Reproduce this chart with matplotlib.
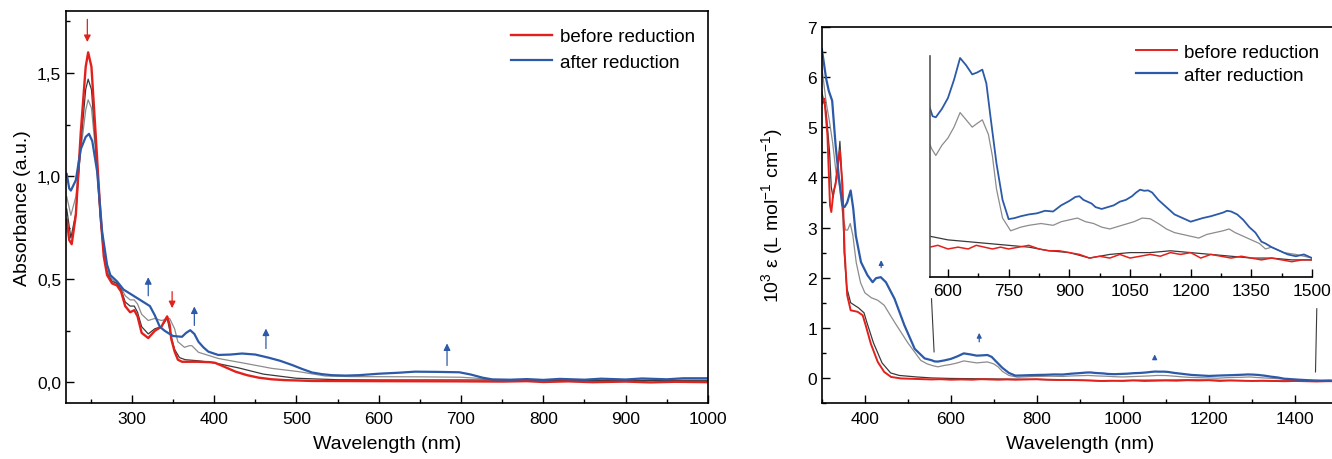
import numpy as np
import matplotlib
matplotlib.use('Agg')
import matplotlib.pyplot as plt
from matplotlib.ticker import MultipleLocator, FuncFormatter

plt.rcParams['font.family'] = ['Liberation Sans', 'DejaVu Sans']
plt.rcParams['mathtext.fontset'] = 'custom'
plt.rcParams['mathtext.rm'] = 'Liberation Sans'
plt.rcParams['mathtext.it'] = 'Liberation Sans:italic'

# ---------------- left panel: absorbance ----------------
l_red_wl = [221, 224, 227, 232, 238, 244, 247, 251, 256, 262, 266, 270, 276, 282, 287, 292, 298, 303, 307, 312,
            320, 328, 336, 340, 343, 346, 348, 352, 356, 361, 380, 395, 401, 410, 426, 440, 454, 470, 486, 520,
            600, 700, 750, 780, 800, 830, 860, 900, 930, 960, 1000]
l_red = [0.79, 0.69, 0.67, 0.81, 1.21, 1.53, 1.60, 1.53, 1.21, 0.81, 0.61, 0.52, 0.48, 0.47, 0.44, 0.37, 0.34, 0.35, 0.32, 0.24,
         0.215, 0.25, 0.27, 0.30, 0.32, 0.28, 0.21, 0.15, 0.11, 0.10, 0.10, 0.098, 0.095, 0.08, 0.052, 0.035, 0.023, 0.015, 0.011, 0.007,
         0.006, 0.005, 0.004, 0.006, 0.002, 0.005, 0.001, 0.004, 0.0, 0.003, 0.001]

l_blue_wl = [221, 224, 226, 232, 238, 244, 248, 252, 258, 264, 270, 274, 282, 290, 298, 310, 322, 328, 334, 340,
             350, 361, 366, 371, 376, 381, 387, 393, 405, 420, 434, 450, 466, 480, 495, 507, 519, 531, 543, 560,
             576, 600, 625, 644, 670, 698, 712, 726, 738, 760, 780, 800, 820, 850, 870, 900, 920, 950, 970, 1000]
l_blue = [1.01, 0.94, 0.93, 0.98, 1.13, 1.19, 1.205, 1.17, 1.02, 0.73, 0.57, 0.52, 0.49, 0.45, 0.43, 0.40, 0.37, 0.325, 0.27, 0.25,
          0.225, 0.221, 0.24, 0.253, 0.235, 0.197, 0.17, 0.149, 0.133, 0.135, 0.14, 0.135, 0.12, 0.105, 0.084, 0.065, 0.048, 0.04, 0.035, 0.033,
          0.035, 0.042, 0.047, 0.052, 0.051, 0.049, 0.038, 0.023, 0.0145, 0.013, 0.016, 0.012, 0.017, 0.013, 0.018, 0.014, 0.019, 0.015, 0.02, 0.02]

l_gray_wl = [221, 226, 232, 238, 244, 247, 251, 256, 262, 266, 270, 276, 282, 287, 292, 298, 303, 307, 312, 320,
             328, 336, 346, 352, 356, 364, 370, 373, 381, 405, 438, 470, 503, 535, 567, 650, 700, 720, 740, 800, 1000]
l_gray = [0.90, 0.81, 0.90, 1.12, 1.32, 1.37, 1.33, 1.12, 0.78, 0.62, 0.54, 0.50, 0.48, 0.46, 0.42, 0.40, 0.40, 0.38, 0.33, 0.30,
          0.31, 0.30, 0.31, 0.26, 0.197, 0.17, 0.178, 0.178, 0.146, 0.116, 0.092, 0.068, 0.052, 0.031, 0.028, 0.027, 0.025, 0.02, 0.012, 0.011, 0.012]

l_black_wl = [221, 226, 232, 238, 244, 247, 251, 256, 262, 266, 270, 276, 282, 287, 292, 298, 303, 307, 312, 320,
              328, 336, 343, 348, 352, 358, 365, 380, 400, 430, 460, 500, 550, 600, 700, 750, 800, 1000]
l_black = [0.84, 0.70, 0.82, 1.15, 1.42, 1.47, 1.42, 1.15, 0.80, 0.62, 0.53, 0.49, 0.48, 0.45, 0.39, 0.37, 0.37, 0.34, 0.27, 0.235,
           0.26, 0.27, 0.31, 0.22, 0.16, 0.12, 0.11, 0.105, 0.095, 0.07, 0.04, 0.02, 0.013, 0.012, 0.012, 0.011, 0.01, 0.008]

# arrows (wavelength, tail, head)
l_red_arrows = [(246, 1.76, 1.65), (349, 0.44, 0.36)]
l_blue_arrows = [(320, 0.42, 0.51), (376, 0.276, 0.368), (463, 0.164, 0.261), (683, 0.082, 0.189)]

# ---------------- right panel: extinction ----------------
r_blue_wl = [300, 310, 316, 324, 332, 340, 348, 353, 359, 367, 373, 379, 391, 406, 418, 426, 437, 449, 469, 492,
             516, 539, 555, 562, 570, 585, 600, 615, 630, 645, 660, 672, 685, 695, 705, 720, 735, 750, 765, 780,
             800, 820, 840, 860, 880, 900, 915, 925, 935, 945, 955, 965, 980, 995, 1010, 1025, 1040, 1055, 1065, 1075,
             1085, 1095, 1105, 1120, 1140, 1160, 1180, 1200, 1215, 1230, 1250, 1265, 1280, 1290, 1300, 1315, 1330, 1345, 1360, 1375,
             1385, 1400, 1420, 1440, 1460, 1480, 1500]
r_blue = [6.56, 5.97, 5.73, 5.53, 4.64, 3.97, 3.44, 3.41, 3.5, 3.74, 3.38, 2.84, 2.31, 2.05, 1.91, 1.99, 2.01, 1.91, 1.58, 1.05,
          0.58, 0.39, 0.354, 0.33, 0.327, 0.35, 0.38, 0.43, 0.49, 0.47, 0.445, 0.45, 0.458, 0.42, 0.33, 0.2, 0.1, 0.047, 0.05, 0.055,
          0.06, 0.063, 0.07, 0.068, 0.085, 0.097, 0.108, 0.11, 0.1, 0.095, 0.09, 0.08, 0.075, 0.08, 0.085, 0.095, 0.1, 0.11, 0.12, 0.128,
          0.125, 0.126, 0.12, 0.1, 0.08, 0.06, 0.05, 0.04, 0.045, 0.05, 0.055, 0.06, 0.065, 0.07, 0.068, 0.06, 0.045, 0.025, 0.01, -0.015,
          -0.02, -0.03, -0.04, -0.05, -0.055, -0.05, -0.06]

r_red_wl = [300, 306, 313, 319, 322, 327, 332, 338, 342, 348, 353, 359, 367, 383, 395, 402, 414, 430, 445, 461,
            484, 520, 555, 575, 600, 625, 650, 670, 690, 710, 730, 750, 775, 800, 825, 850, 875, 900, 925, 950,
            975, 1000, 1025, 1050, 1075, 1100, 1125, 1150, 1175, 1200, 1225, 1250, 1275, 1300, 1325, 1350, 1375, 1400, 1425, 1450,
            1475, 1500]
r_red = [5.47, 5.57, 4.84, 3.44, 3.31, 3.71, 3.87, 4.3, 4.54, 3.84, 2.51, 1.65, 1.35, 1.32, 1.25, 1.05, 0.68, 0.32, 0.12, 0.02,
         -0.01, -0.02, -0.03, -0.025, -0.035, -0.03, -0.035, -0.025, -0.03, -0.035, -0.03, -0.035, -0.03, -0.025, -0.035, -0.04, -0.04, -0.045, -0.05, -0.06,
         -0.055, -0.06, -0.05, -0.06, -0.055, -0.05, -0.055, -0.045, -0.05, -0.045, -0.06, -0.05, -0.055, -0.06, -0.055, -0.06, -0.065, -0.06, -0.065, -0.07,
         -0.065, -0.065]

r_gray_wl = [300, 310, 318, 325, 333, 340, 348, 355, 360, 366, 372, 380, 390, 400, 415, 430, 445, 470, 500, 530,
             545, 560, 570, 585, 600, 615, 630, 645, 660, 672, 685, 700, 710, 720, 735, 755, 780, 800, 830, 860,
             880, 900, 920, 940, 960, 980, 1000, 1030, 1060, 1080, 1100, 1120, 1140, 1160, 1180, 1200, 1220, 1240, 1260, 1280,
             1295, 1310, 1330, 1350, 1370, 1385, 1400, 1430, 1460, 1480, 1500]
r_gray = [6.2, 5.5, 5.1, 4.7, 4.1, 3.9, 3.3, 2.95, 2.95, 3.08, 2.85, 2.3, 1.9, 1.7, 1.6, 1.55, 1.45, 1.1, 0.7, 0.35,
          0.28, 0.24, 0.222, 0.25, 0.27, 0.30, 0.34, 0.32, 0.30, 0.31, 0.32, 0.28, 0.22, 0.13, 0.05, 0.015, 0.025, 0.03, 0.035, 0.03,
          0.04, 0.045, 0.05, 0.04, 0.035, 0.025, 0.02, 0.03, 0.04, 0.05, 0.048, 0.035, 0.02, 0.01, 0.005, 0.0, -0.005, 0.005, 0.01, 0.015,
          0.02, 0.01, 0.0, -0.01, -0.02, -0.035, -0.03, -0.045, -0.05, -0.055, -0.06]

r_black_wl = [300, 310, 318, 322, 326, 332, 338, 342, 347, 352, 358, 367, 385, 398, 405, 420, 440, 460, 480, 520,
              555, 600, 650, 700, 750, 800, 850, 900, 950, 1000, 1050, 1100, 1150, 1200, 1250, 1300, 1350, 1400, 1450, 1500]
r_black = [5.7, 5.3, 4.5, 3.8, 3.6, 3.9, 4.3, 4.72, 3.9, 2.5, 1.8, 1.5, 1.4, 1.3, 1.1, 0.7, 0.3, 0.1, 0.05, 0.02,
           0.0, -0.01, -0.015, -0.02, -0.025, -0.03, -0.04, -0.045, -0.06, -0.05, -0.045, -0.045, -0.04, -0.045, -0.05, -0.055, -0.06, -0.06, -0.065, -0.065]

r_blue_arrows = [(438, 2.2, 2.35), (666, 0.72, 0.9), (1074, 0.37, 0.47)]

RED = '#e3211c'
BLUE = '#2c5aa8'
GRAY = '#8c8c8c'
BLACK = '#3a3a3a'


def style_axes(ax, size=12.5):
    ax.tick_params(which='both', direction='in', top=False, right=False, labelsize=size)
    ax.tick_params(axis='x', which='both', pad=6)
    ax.tick_params(which='major', length=5.5, width=1)
    ax.tick_params(which='minor', length=2.7, width=1)
    for s in ax.spines.values():
        s.set_linewidth(1.2)


def draw_arrow(ax, x, y0, y1, color, scale=10):
    ax.annotate('', xy=(x, y1), xytext=(x, y0),
                arrowprops=dict(arrowstyle='-|>', color=color, lw=0.9, mutation_scale=scale, shrinkA=0, shrinkB=0))


fig = plt.figure(figsize=(13.32, 4.6), dpi=100)

ax1 = fig.add_axes([0.0495, 0.1217, 0.482, 0.852])
ax1.plot(l_gray_wl, l_gray, color=GRAY, lw=0.9)
ax1.plot(l_black_wl, l_black, color=BLACK, lw=0.9)
ax1.plot(l_red_wl, l_red, color=RED, lw=1.7, label='before reduction')
ax1.plot(l_blue_wl, l_blue, color=BLUE, lw=1.6, label='after reduction')
for x, a, b in l_red_arrows:
    draw_arrow(ax1, x, a, b, RED)
for x, a, b in l_blue_arrows:
    draw_arrow(ax1, x, a, b, BLUE)
ax1.set_xlim(220, 1000)
ax1.set_ylim(-0.1, 1.8)
ax1.xaxis.set_major_locator(MultipleLocator(100))
ax1.xaxis.set_minor_locator(MultipleLocator(50))
ax1.yaxis.set_major_locator(MultipleLocator(0.5))
ax1.yaxis.set_minor_locator(MultipleLocator(0.25))
ax1.yaxis.set_major_formatter(FuncFormatter(lambda v, p: ('%.1f' % v).replace('.', ',')))
ax1.set_xticks([300, 400, 500, 600, 700, 800, 900, 1000])
style_axes(ax1)
ax1.set_xlabel('Wavelength (nm)', fontsize=14, labelpad=6)
ax1.set_ylabel('Absorbance (a.u.)', fontsize=14)
ax1.legend(loc='upper right', bbox_to_anchor=(1.0, 0.99), frameon=False, fontsize=13.5, handlelength=2.2,
           borderaxespad=0.3, labelspacing=0.45, handletextpad=0.4)

ax2 = fig.add_axes([0.617, 0.1217, 0.3874, 0.8174])
ax2.plot(r_gray_wl, r_gray, color=GRAY, lw=0.9)
ax2.plot(r_black_wl, r_black, color=BLACK, lw=0.9)
ax2.plot(r_red_wl, r_red, color=RED, lw=1.4, label='before reduction')
ax2.plot(r_blue_wl, r_blue, color=BLUE, lw=1.6, label='after reduction')
for x, a, b in r_blue_arrows:
    draw_arrow(ax2, x, a, b, BLUE, scale=7)
ax2.set_xlim(300, 1500)
ax2.set_ylim(-0.5, 7)
ax2.xaxis.set_major_locator(MultipleLocator(200))
ax2.xaxis.set_minor_locator(MultipleLocator(100))
ax2.yaxis.set_major_locator(MultipleLocator(1))
ax2.yaxis.set_minor_locator(MultipleLocator(0.5))
style_axes(ax2)
ax2.set_xlabel('Wavelength (nm)', fontsize=14, labelpad=6)
ax2.set_ylabel(r'10$^3$ ε (L mol$^{-1}$ cm$^{-1}$)', fontsize=14, labelpad=16)
# guide lines from the inset down to the main curves
ax2.plot([555, 561], [1.58, 0.52], color=BLACK, lw=0.8)
ax2.plot([1451, 1448], [1.38, 0.12], color=BLACK, lw=0.8)
ax2.legend(loc='upper right', bbox_to_anchor=(0.99, 0.99), frameon=False, fontsize=13.5,
           handlelength=2.2, borderaxespad=0.3, labelspacing=0.3, handletextpad=0.4)

ins = fig.add_axes([0.698, 0.3957, 0.287, 0.480])
ins.patch.set_alpha(0)
ins.plot(r_gray_wl, r_gray, color=GRAY, lw=0.9)
ins.plot(r_black_wl, r_black, color=BLACK, lw=0.9)
ins.plot(r_red_wl, r_red, color=RED, lw=1.1)
ins.plot(r_blue_wl, r_blue, color=BLUE, lw=1.3)
ins.set_xlim(555, 1500)
ins.set_ylim(-0.112, 0.495)
ins.xaxis.set_major_locator(MultipleLocator(150))
ins.xaxis.set_minor_locator(MultipleLocator(75))
ins.set_yticks([])
ins.spines['top'].set_visible(False)
ins.spines['right'].set_visible(False)
style_axes(ins)
ins.tick_params(axis='x', which='both', pad=4)
ins.spines['left'].set_color('#555555')

fig.savefig('out.png', dpi=100)
